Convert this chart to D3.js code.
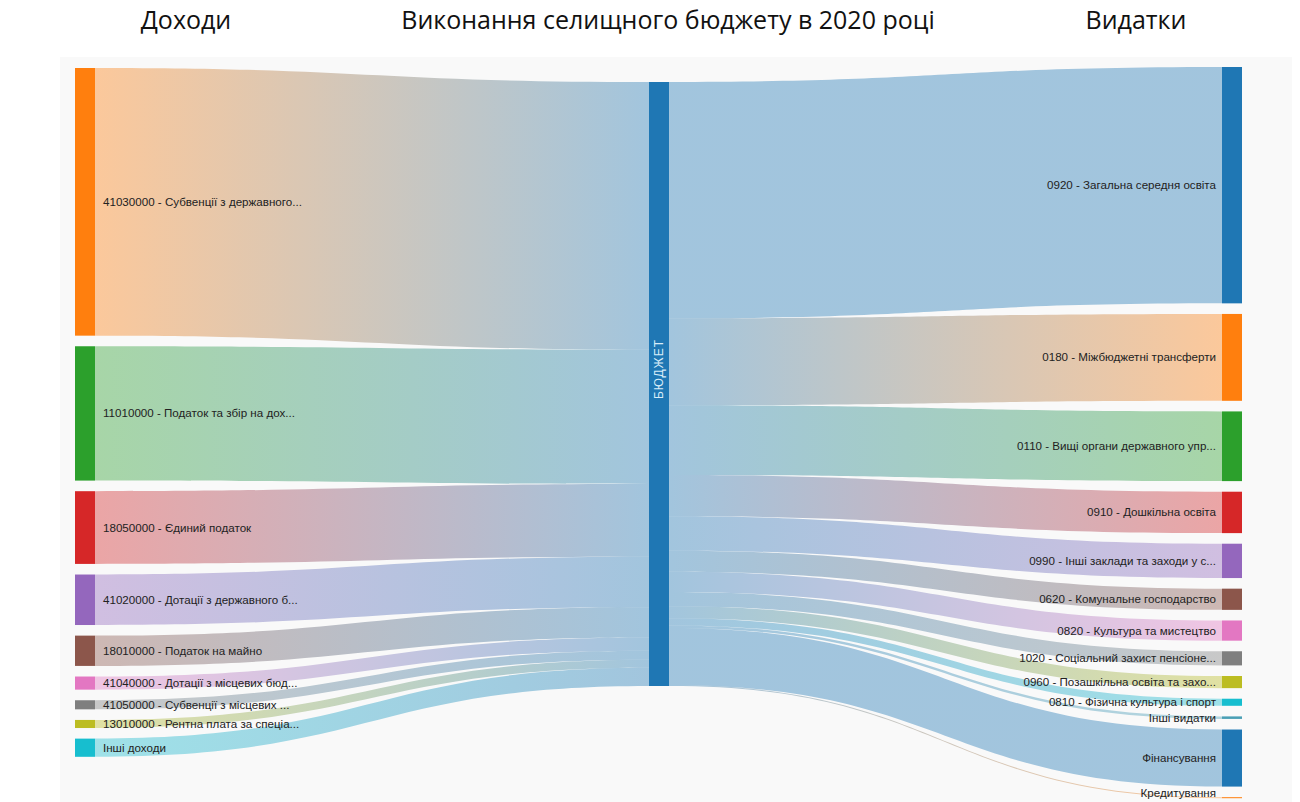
<!DOCTYPE html>
<html>
<head>
<meta charset="utf-8">
<script src="https://cdn.jsdelivr.net/npm/d3@7"></script>
<style>
  html, body { margin: 0; padding: 0; background: #ffffff; }
  svg { display: block; }
</style>
</head>
<body>
<svg id="chart" width="1300" height="802"></svg>
<script>
// ---------------- DATA ----------------
const titleLeft = "Доходи";
const titleMain = "Виконання селищного бюджету в 2020 році";
const titleRight = "Видатки";
const hubLabel = "БЮДЖЕТ";

// Доходи (income sources), thousand UAH
const incomeLabels = [
  "41030000 - Субвенції з державного...",
  "11010000 - Податок та збір на дох...",
  "18050000 - Єдиний податок",
  "41020000 - Дотації з державного б...",
  "18010000 - Податок на майно",
  "41040000 - Дотації з місцевих бюд...",
  "41050000 - Субвенції з місцевих ...",
  "13010000 - Рентна плата за спеціа...",
  "Інші доходи"
];
const incomeValues = [26500, 13300, 7200, 5000, 3000, 1300, 900, 800, 1800];
const incomeColors = ["#ff7f0e", "#2ca02c", "#d62728", "#9467bd", "#8c564b",
                      "#e377c2", "#7f7f7f", "#bcbd22", "#17becf"];

// Видатки (expenditures), thousand UAH
const expenseLabels = [
  "0920 - Загальна середня освіта",
  "0180 - Міжбюджетні трансферти",
  "0110 - Вищі органи державного упр...",
  "0910 - Дошкільна освіта",
  "0990 - Інші заклади та заходи у с...",
  "0620 - Комунальне господарство",
  "0820 - Культура та мистецтво",
  "1020 - Соціальний захист пенсіоне...",
  "0960 - Позашкільна освіта та захо...",
  "0810 - Фізична культура і спорт",
  "Інші видатки",
  "Фінансування",
  "Кредитування"
];
const expenseValues = [23400, 8600, 6900, 4100, 3400, 2100, 2000, 1400, 1200, 700, 250, 5650, 100];
const expenseColors = ["#1f77b4", "#ff7f0e", "#2ca02c", "#d62728", "#9467bd", "#8c564b",
                       "#e377c2", "#7f7f7f", "#bcbd22", "#17becf", "#4a9fb5", "#1f77b4", "#ff7f0e"];
const hubColor = "#1f77b4";

// ---------------- LAYOUT ----------------
const svg = d3.select("#chart");
const W = 1300, H = 802;
const nodeW = 20;
const colX = { left: 75, mid: 649, right: 1222 };
const pad = 10.6;
const colTop = { left: 68, mid: 82, right: 67 };

const totalIn = d3.sum(incomeValues);
const totalOut = d3.sum(expenseValues);
const hubValue = Math.max(totalIn, totalOut);
const ky = d3.scaleLinear().domain([0, hubValue]).range([0, 604]);

function stack(values, top) {
  let y = top;
  return values.map(v => {
    const n = { y0: y, y1: y + ky(v) };
    y = n.y1 + pad;
    return n;
  });
}
const leftNodes = stack(incomeValues, colTop.left).map((n, i) => ({
  ...n, x0: colX.left, x1: colX.left + nodeW, label: incomeLabels[i], color: incomeColors[i], value: incomeValues[i]
}));
const rightNodes = stack(expenseValues, colTop.right).map((n, i) => ({
  ...n, x0: colX.right, x1: colX.right + nodeW, label: expenseLabels[i], color: expenseColors[i], value: expenseValues[i]
}));
const hub = { x0: colX.mid, x1: colX.mid + nodeW, y0: colTop.mid, y1: colTop.mid + ky(hubValue) };

// links
const links = [];
let hy = hub.y0;
leftNodes.forEach((n, i) => {
  const h = ky(n.value);
  links.push({ sx: n.x1, sy0: n.y0, sy1: n.y1, tx: hub.x0, ty0: hy, ty1: hy + h, c0: n.color, c1: hubColor });
  hy += h;
});
hy = hub.y0;
rightNodes.forEach((n, i) => {
  const h = ky(n.value);
  links.push({ sx: hub.x1, sy0: hy, sy1: hy + h, tx: n.x0, ty0: n.y0, ty1: n.y1, c0: hubColor, c1: n.color });
  hy += h;
});

function linkPath(l) {
  const p = d3.path();
  const xm = (l.sx + l.tx) / 2;
  p.moveTo(l.sx, l.sy0);
  p.bezierCurveTo(xm, l.sy0, xm, l.ty0, l.tx, l.ty0);
  p.lineTo(l.tx, l.ty1);
  p.bezierCurveTo(xm, l.ty1, xm, l.sy1, l.sx, l.sy1);
  p.closePath();
  return p.toString();
}

// ---------------- DRAW ----------------
// panel background
svg.append("rect").attr("x", 60).attr("y", 57).attr("width", 1232).attr("height", H - 57)
  .attr("fill", "#f9f9f9");

// titles
const tFont = "'Open Sans', 'DejaVu Sans', sans-serif";
const gTitle = svg.append("g").attr("font-family", tFont).attr("font-size", 25)
  .attr("fill", "#111").attr("text-anchor", "middle");
gTitle.append("text").attr("x", 186).attr("y", 29).text(titleLeft);
gTitle.append("text").attr("x", 668).attr("y", 29).text(titleMain);
gTitle.append("text").attr("x", 1136).attr("y", 29).text(titleRight);

const defs = svg.append("defs");
const gLinks = svg.append("g");
links.forEach((l, i) => {
  const id = "grad" + i;
  const g = defs.append("linearGradient").attr("id", id)
    .attr("gradientUnits", "userSpaceOnUse")
    .attr("x1", l.sx).attr("x2", l.tx).attr("y1", 0).attr("y2", 0);
  g.append("stop").attr("offset", "0%").attr("stop-color", l.c0);
  g.append("stop").attr("offset", "100%").attr("stop-color", l.c1);
  gLinks.append("path").attr("d", linkPath(l))
    .attr("fill", `url(#${id})`).attr("fill-opacity", 0.4);
});

// nodes
const gNodes = svg.append("g");
[...leftNodes, ...rightNodes].forEach(n => {
  gNodes.append("rect").attr("x", n.x0).attr("y", n.y0)
    .attr("width", n.x1 - n.x0).attr("height", Math.max(1, n.y1 - n.y0))
    .attr("fill", n.color);
});
gNodes.append("rect").attr("x", hub.x0).attr("y", hub.y0)
  .attr("width", nodeW).attr("height", hub.y1 - hub.y0).attr("fill", hubColor);

// labels
const lFont = "'Liberation Sans', Arial, sans-serif";
const gLab = svg.append("g").attr("font-family", lFont).attr("font-size", 11.6).attr("fill", "#222");
leftNodes.forEach(n => {
  gLab.append("text").attr("x", n.x1 + 8).attr("y", (n.y0 + n.y1) / 2).attr("dy", "0.35em")
    .attr("text-anchor", "start").text(n.label);
});
rightNodes.forEach(n => {
  gLab.append("text").attr("x", n.x0 - 6).attr("y", Math.min(793, (n.y0 + n.y1) / 2)).attr("dy", "0.35em")
    .attr("text-anchor", "end").text(n.label);
});
svg.append("text")
  .attr("transform", `translate(${(hub.x0 + hub.x1) / 2},369) rotate(-90)`)
  .attr("text-anchor", "middle").attr("dy", "0.35em")
  .attr("font-family", lFont).attr("font-size", 12).attr("letter-spacing", 1)
  .attr("fill", "#d8ecf8").text(hubLabel);
</script>
</body>
</html>
